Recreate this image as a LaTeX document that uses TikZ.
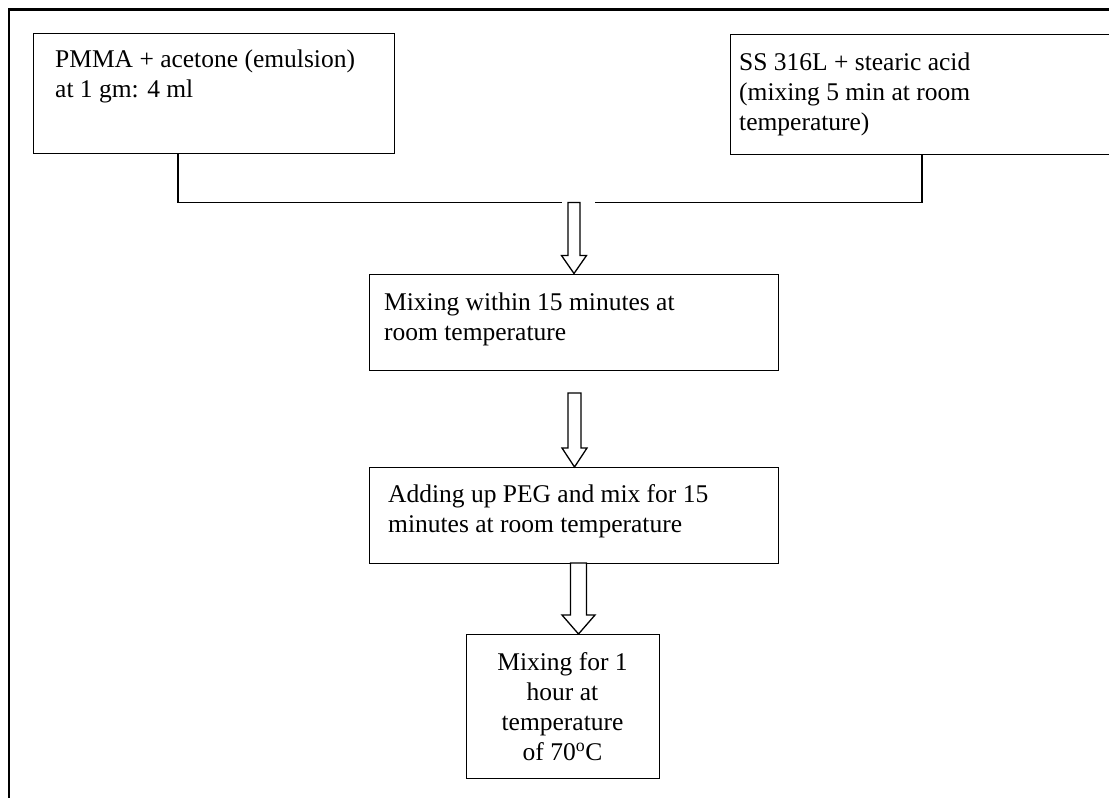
\documentclass[tikz,border=0pt]{standalone}
\usepackage{fontspec}
\setmainfont{Liberation Serif}
\usetikzlibrary{calc}
\begin{document}
\begin{tikzpicture}[x=1pt,y=-1pt,
  box/.style={draw, line width=1.3pt, inner sep=0pt, anchor=north west},
  txt/.style={inner sep=0pt, anchor=north west, align=left, font=\fontsize{25.5}{30}\selectfont},
  ln/.style={line width=1.3pt},
  blockarrow/.style={draw, line width=1.3pt, fill=white, line join=miter},
  pics/barrow/.style n args={4}{code={
    \draw[blockarrow] (-#3,0) -- (#3,0) -- (#3,#1-#2) -- (#4,#1-#2) -- (0,#1)
      -- (-#4,#1-#2) -- (-#3,#1-#2) -- cycle;}}]
\clip (0,0) rectangle (1109,798);
\fill[white] (0,0) rectangle (1109,798);
% outer frame
\draw[line width=2.2pt] (9,800) -- (9,9.5) -- (1112,9.5);
% boxes
\node[box, minimum width=361pt, minimum height=120pt] (b1) at (33,33) {};
\node[box, minimum width=420pt, minimum height=120pt] (b2) at (730,34) {};
\node[box, minimum width=409pt, minimum height=96pt] (b3) at (369,274) {};
\node[box, minimum width=409pt, minimum height=96pt] (b4) at (369,467) {};
\node[box, minimum width=193pt, minimum height=144pt] (b5) at (466,634) {};
% texts
\node[txt] (t1) at (55,46) {\strut PMMA + acetone (emulsion)\\at 1 gm: 4 ml};
\node[txt] (t2) at (739,49) {\strut SS 316L + stearic acid\\(mixing 5 min at room\\temperature)};
\node[txt] (t3) at (384,289) {\strut Mixing within 15 minutes at\\room temperature};
\node[txt] (t4) at (388,481) {\strut Adding up PEG and mix for 15\\minutes at room temperature};
\node[txt, anchor=north, align=center] (t5) at (562.5,649) {\strut Mixing for 1\\hour at\\temperature\\of 70\textsuperscript{o}C};
% connectors
\coordinate (j1) at (178,202.5);
\coordinate (j2) at (922,202.5);
\coordinate (g1) at (562,202.5);
\coordinate (g2) at (595,202.5);
\draw[ln] (b1.south -| j1) -- (j1) -- (g1);
\draw[ln] (b2.south -| j2) -- (j2) -- (g2);
% block arrows
\pic at (574,202.5) {barrow={71}{18}{6}{12.5}};
\pic at (574.5,393) {barrow={74}{19}{6.5}{12.5}};
\pic at (578.5,563) {barrow={71}{19}{8}{16.5}};
\end{tikzpicture}
\end{document}
